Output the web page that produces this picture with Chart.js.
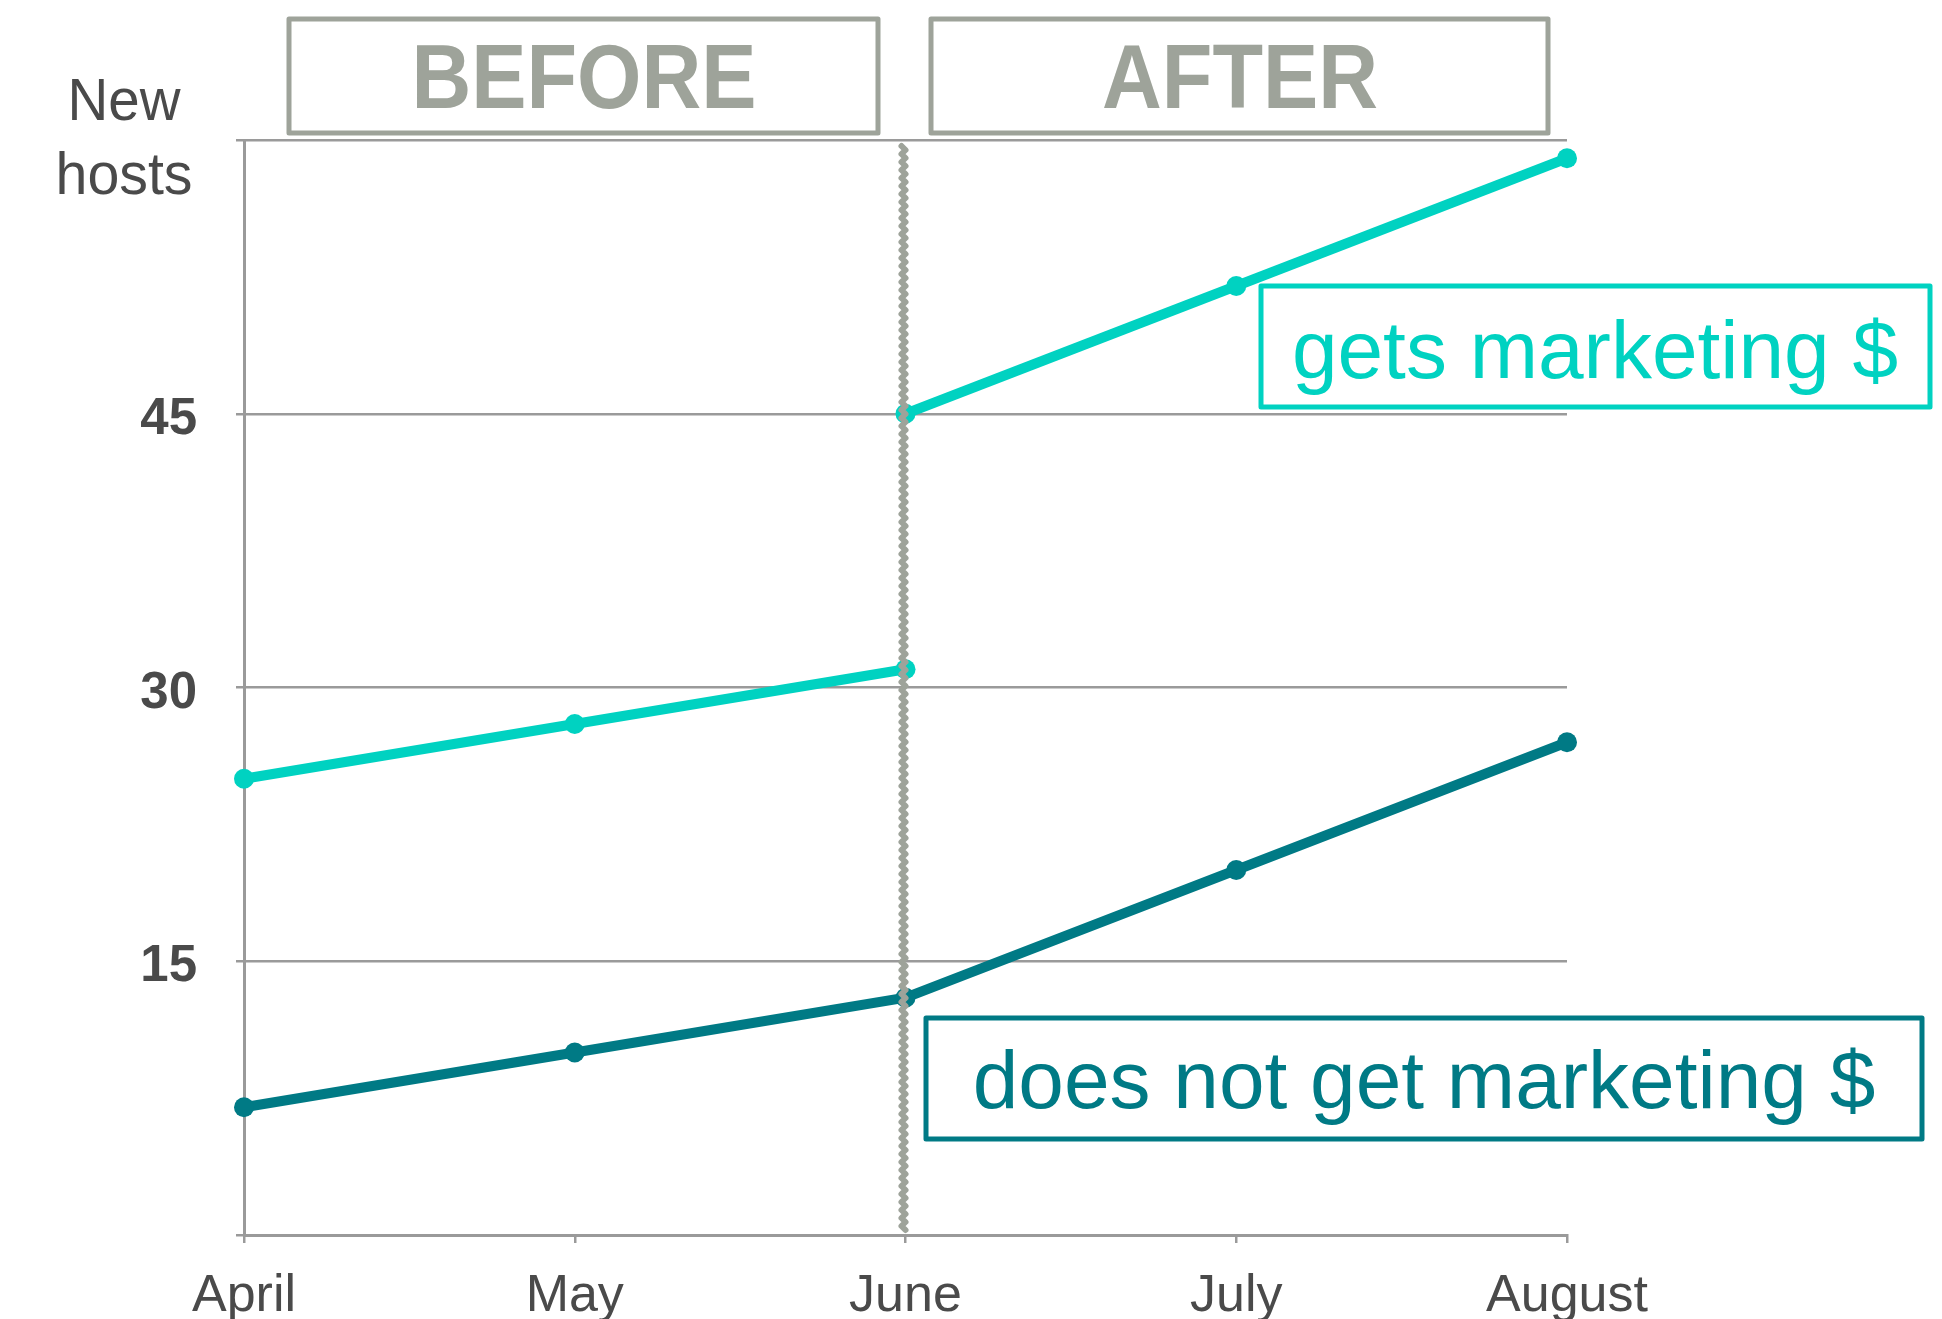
<!DOCTYPE html>
<html>
<head>
<meta charset="utf-8">
<title>New hosts: before and after</title>
<script src="https://cdn.jsdelivr.net/npm/chart.js@4/dist/chart.umd.min.js"></script>
<style>
  body { margin: 0; background: #fff; }
  #wrap { width: 1942px; height: 1319px; }
</style>
</head>
<body>
<div id="wrap"><canvas id="hostsChart" width="1942" height="1319"></canvas></div>
<script>
// monthly new hosts, split at June when the marketing budget starts
var months = ['April', 'May', 'June', 'July', 'August'];
var marketingBefore = [25, 28, 31, null, null];
var marketingAfter = [null, null, 45, 52, 59];
var noMarketing = [7, 10, 13, 20, 27];
var yLabels = [15, 30, 45];

var CYAN = '#00d2c1';
var TEAL = '#007a85';
var GREY = '#9ea39a';
var AXIS = '#9a9a9a';
var INK = '#4a4a4a';
var FONT = "'Liberation Sans', Arial, sans-serif";

Chart.defaults.font.family = FONT;

function lineSet(values, color) {
  return {
    data: values,
    borderColor: color,
    backgroundColor: color,
    borderWidth: 10,
    pointRadius: 10,
    pointHoverRadius: 10,
    pointBorderWidth: 0,
    tension: 0,
    spanGaps: false
  };
}

function box(ctx, x, y, w, h, color, lw) {
  ctx.strokeStyle = color;
  ctx.lineWidth = lw;
  ctx.strokeRect(x, y, w, h);
}

// headings, split line and the two series tags
var decorations = {
  id: 'decorations',
  afterDatasetsDraw: function(chart) {
    var ctx = chart.ctx;
    var xs = chart.scales.x;
    var area = chart.chartArea;
    ctx.save();

    // wavy divider at June
    var xJune = xs.getPixelForValue(2) - 2;
    ctx.strokeStyle = GREY;
    ctx.lineWidth = 6;
    ctx.lineJoin = 'round';
    ctx.lineCap = 'round';
    ctx.beginPath();
    var i = 0;
    for (var y = area.top + 6; y <= area.bottom - 2; y += 4) {
      var xo = (i % 2 === 0) ? -2 : 2;
      if (i === 0) ctx.moveTo(xJune + xo, y); else ctx.lineTo(xJune + xo, y);
      i++;
    }
    ctx.stroke();

    // BEFORE / AFTER header boxes
    box(ctx, 289, 19, 589, 114, GREY, 5);
    box(ctx, 931, 19, 617, 114, GREY, 5);
    ctx.fillStyle = GREY;
    ctx.font = 'bold 90px ' + FONT;
    ctx.textAlign = 'center';
    ctx.textBaseline = 'alphabetic';
    ctx.fillText('BEFORE', 584, 108, 345);
    ctx.fillText('AFTER', 1240, 108, 276);

    // axis title
    ctx.fillStyle = INK;
    ctx.font = '59px ' + FONT;
    ctx.fillText('New', 124, 120, 113);
    ctx.fillText('hosts', 124, 194, 137);

    // series tags
    box(ctx, 1261, 286, 669, 121, CYAN, 5);
    ctx.fillStyle = CYAN;
    ctx.font = '82px ' + FONT;
    ctx.fillText('gets marketing $', 1595, 378);

    box(ctx, 926, 1018, 996, 121, TEAL, 5);
    ctx.fillStyle = TEAL;
    ctx.fillText('does not get marketing $', 1424, 1108);

    ctx.restore();
  }
};

new Chart(document.getElementById('hostsChart'), {
  type: 'line',
  data: {
    labels: months,
    datasets: [
      lineSet(noMarketing, TEAL),
      lineSet(marketingBefore, CYAN),
      lineSet(marketingAfter, CYAN)
    ]
  },
  options: {
    responsive: false,
    animation: false,
    layout: { padding: { top: 140, right: 375, left: 0, bottom: 0 } },
    plugins: {
      legend: { display: false },
      tooltip: { enabled: false }
    },
    scales: {
      x: {
        afterFit: function(scale) { scale.height = 84; },
        grid: {
          drawOnChartArea: false,
          drawTicks: true,
          tickLength: 8,
          color: AXIS,
          lineWidth: 2.5
        },
        border: { color: AXIS, width: 3 },
        ticks: {
          color: INK,
          font: { size: 52 },
          padding: 22,
          maxRotation: 0,
          autoSkip: false
        }
      },
      y: {
        min: 0,
        max: 60,
        afterFit: function(scale) { scale.width = 244; },
        grid: {
          color: AXIS,
          lineWidth: 2.5,
          tickLength: 8
        },
        border: { color: AXIS, width: 3 },
        ticks: {
          stepSize: 15,
          color: INK,
          padding: 39,
          labelOffset: 6,
          font: { size: 51, weight: 'bold' },
          callback: function(v) { return yLabels.indexOf(v) >= 0 ? v : ''; }
        }
      }
    }
  },
  plugins: [decorations]
});
</script>
</body>
</html>
